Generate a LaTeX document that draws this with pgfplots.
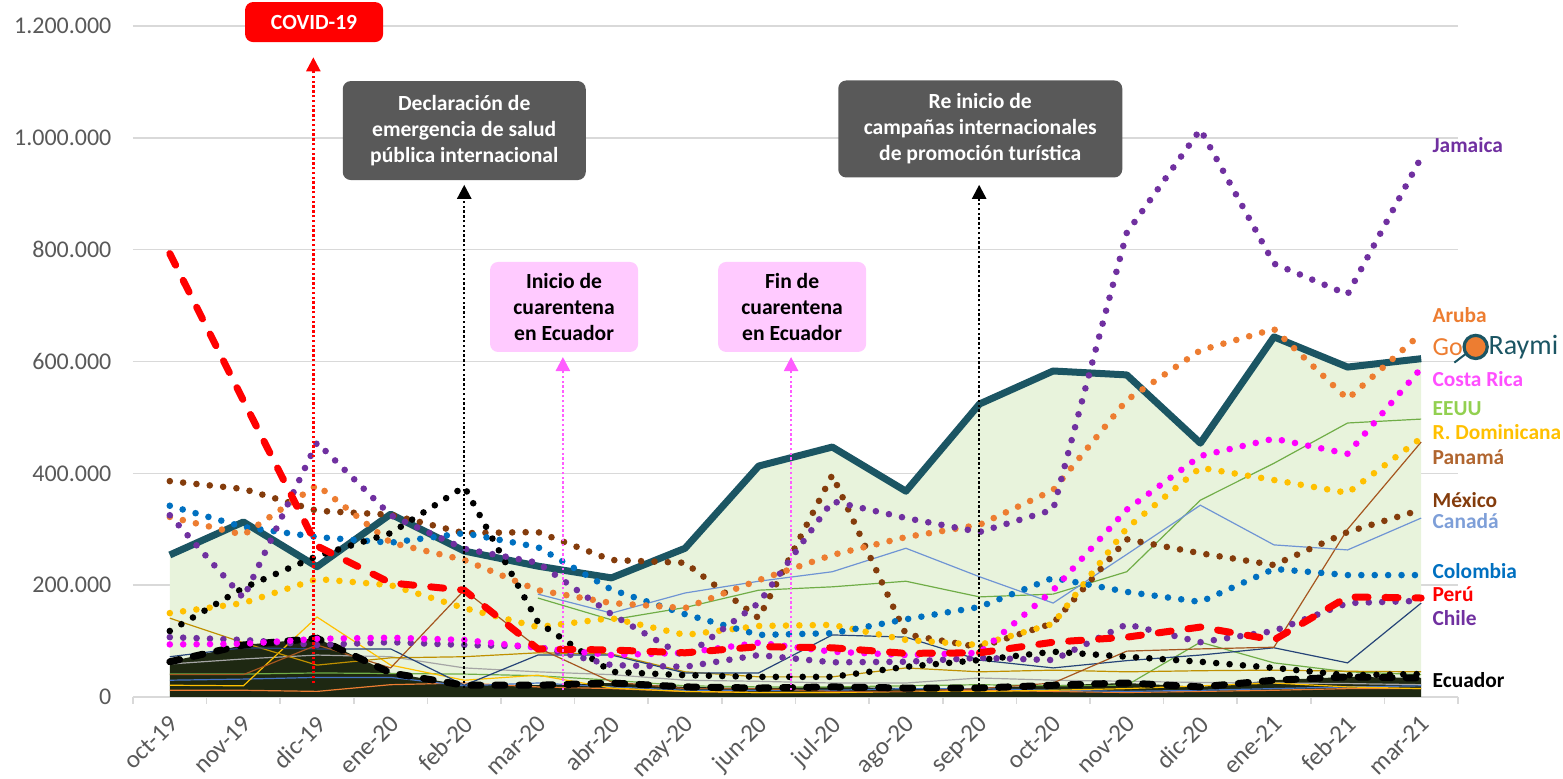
\documentclass[border=0pt]{standalone}
\usepackage{fontspec}
\setmainfont{Carlito}
\usepackage{pgfplots}
\pgfplotsset{compat=1.18}
\usetikzlibrary{arrows.meta}

\definecolor{goraymi}{HTML}{1B5563}
\definecolor{gofill}{HTML}{E8F3DC}
\definecolor{darkfill}{HTML}{1E2812}
\definecolor{jam}{HTML}{7030A0}
\definecolor{aruba}{HTML}{ED7D31}
\definecolor{crica}{HTML}{FF00FF}
\definecolor{colom}{HTML}{0070C0}
\definecolor{mexico}{HTML}{843C0C}
\definecolor{rdom}{HTML}{FFC000}
\definecolor{eeuu}{HTML}{70AD47}
\definecolor{eeuulab}{HTML}{92D050}
\definecolor{canada}{HTML}{6F94D4}
\definecolor{canadalab}{HTML}{7E9FD8}
\definecolor{panama}{HTML}{A5561F}
\definecolor{panamalab}{HTML}{B0652F}
\definecolor{olive}{HTML}{BF9000}
\definecolor{dblue}{HTML}{264478}
\definecolor{lgray}{HTML}{A5A5A5}
\definecolor{mblue}{HTML}{4472C4}
\definecolor{tickgray}{HTML}{595959}
\definecolor{gridgray}{HTML}{D9D9D9}
\definecolor{boxgray}{HTML}{595959}
\definecolor{boxpink}{HTML}{FFCAFF}
\definecolor{arrpink}{HTML}{FF5CFF}
\definecolor{crlab}{HTML}{FF4FFF}

\tikzset{
  dotser/.style={line width=3.3pt, dash pattern=on 0pt off 6.7pt, line cap=round},
  thinser/.style={line width=0.6pt},
  evarrow/.style={line width=1.2pt, dash pattern=on 1.2pt off 1.2pt, -{Triangle[width=7pt,length=7pt]}},
  evbox/.style={rounded corners=4pt, align=center, font=\fontsize{10.8}{13}\selectfont\bfseries, inner sep=0pt},
  rlab/.style={anchor=west, inner sep=0pt, font=\fontsize{10.7}{12}\selectfont\bfseries},
}

\begin{document}
\begin{tikzpicture}
\begin{axis}[
  name=ax, scale only axis, width=662.5pt, height=335.5pt,
  xmin=-0.5, xmax=17.5, ymin=0, ymax=1200000,
  axis x line*=bottom, axis y line*=left,
  x axis line style={draw=gridgray, line width=0.8pt, -},
  y axis line style={draw=none},
  xtick={0,...,17},
  xticklabels={oct-19,nov-19,dic-19,ene-20,feb-20,mar-20,abr-20,may-20,jun-20,jul-20,ago-20,sep-20,oct-20,nov-20,dic-20,ene-21,feb-21,mar-21},
  minor xtick={-0.5,0.5,...,17.5},
  major x tick style={draw=none},
  minor x tick style={draw=gridgray, line width=0.8pt},
  minor tick length=3.5pt,
  tick align=outside,
  ytick={0,200000,...,1200000},
  major y tick style={draw=none},
  ymajorgrids, grid style={gridgray, line width=0.8pt},
  scaled y ticks=false,
  tick label style={text=tickgray},
  yticklabel style={font=\fontsize{12}{14}\selectfont, xshift=-3pt, /pgf/number format/.cd, fixed, 1000 sep={.}, assume math mode=true},
  xticklabel style={font=\fontsize{12.5}{14}\selectfont, rotate=45, anchor=north east, inner sep=1pt, xshift=-2.5pt, yshift=-1pt},
  clip=false, no markers,
]
% GoRaymi area
\addplot[fill=gofill, draw=none] coordinates {
 (0,254000) (1,313000) (2,233000) (3,327000) (4,261000) (5,234000) (6,213000) (7,266000) (8,413000)
 (9,447000) (10,368000) (11,524000) (12,583000) (13,576000) (14,454000) (15,644000) (16,590000) (17,605000)} \closedcycle;
% dark area under Ecuador dashed
\addplot[fill=darkfill, draw=none] coordinates {
 (0,63000) (1,93000) (2,105000) (3,43000) (4,21000) (5,21000) (6,25000) (7,18000) (8,16000)
 (9,18000) (10,16000) (11,16000) (12,21000) (13,25000) (14,18000) (15,30000) (16,36000) (17,34000)} \closedcycle;

% thin series near the bottom
\addplot[thinser, lgray] coordinates {
 (0,59000) (1,68000) (2,75000) (3,72000) (4,52000) (5,45000) (6,40000) (7,30000) (8,28000)
 (9,25000) (10,25000) (11,34000) (12,30000) (13,28000) (14,26000) (15,25000) (16,24000) (17,22000)};
\addplot[thinser, aruba] coordinates {
 (0,12000) (1,12000) (2,10000) (3,22000) (4,25000) (5,18000) (6,15000) (7,10000) (8,8000)
 (9,8000) (10,10000) (11,12000) (12,10000) (13,8000) (14,10000) (15,12000) (16,15000) (17,15000)};
\addplot[thinser, mblue] coordinates {
 (0,30000) (1,32000) (2,35000) (3,35000) (4,20000) (5,25000) (6,18000) (7,12000) (8,12000)
 (9,12000) (10,15000) (11,15000) (12,12000) (13,10000) (14,12000) (15,15000) (16,18000) (17,20000)};
\addplot[thinser, eeuu] coordinates {
 (0,41000) (1,41000) (2,43000) (3,42000) (4,41000) (5,38000) (6,30000) (7,20000) (8,18000)
 (9,18000) (10,20000) (11,22000) (12,20000) (13,21000) (14,98000) (15,61000) (16,45000) (17,40000)};
\addplot[thinser, rdom] coordinates {
 (0,21000) (1,20000) (2,143000) (3,57000) (4,30000) (5,39000) (6,16000) (7,10000) (8,8000)
 (9,8000) (10,10000) (11,10000) (12,12000) (13,15000) (14,20000) (15,25000) (16,18000) (17,15000)};
\addplot[thinser, olive] coordinates {
 (0,141000) (1,97000) (2,57000) (3,70000) (4,72000) (5,79000) (6,77000) (7,45000) (8,36000)
 (9,36000) (10,52000) (11,45000) (12,48000) (13,45000) (14,47000) (15,48000) (16,46000) (17,45000)};
\addplot[thinser, dblue] coordinates {
 (0,72000) (1,88000) (2,86000) (3,86000) (4,21000) (5,75000) (6,75000) (7,43000) (8,43000)
 (9,111000) (10,107000) (11,66000) (12,52000) (13,65000) (14,75000) (15,88000) (16,61000) (17,168000)};
% Panama
\addplot[thinser, panama] coordinates {
 (0,40000) (1,40000) (2,93000) (3,52000) (4,191000) (5,88000) (6,27000) (7,15000) (8,15000)
 (9,10000) (10,10000) (11,15000) (12,25000) (13,82000) (14,86000) (15,89000) (16,300000) (17,456000)};
% EEUU
\addplot[thinser, eeuu] coordinates {
 (5,177000) (6,138000) (7,160000) (8,191000) (9,197000) (10,207000) (11,179000) (12,184000)
 (13,224000) (14,352000) (15,418000) (16,490000) (17,497000)};
% Canada
\addplot[thinser, canada] coordinates {
 (5,184000) (6,150000) (7,186000) (8,207000) (9,224000) (10,266000) (11,215000) (12,168000)
 (13,255000) (14,343000) (15,272000) (16,263000) (17,320000)};

% GoRaymi line
\addplot[goraymi, line width=3.5pt, line join=round] coordinates {
 (0,254000) (1,313000) (2,233000) (3,327000) (4,261000) (5,234000) (6,213000) (7,266000) (8,413000)
 (9,447000) (10,368000) (11,524000) (12,583000) (13,576000) (14,454000) (15,644000) (16,590000) (17,605000)};

% Ecuador dashed
\addplot[black, line width=3.5pt, dash pattern=on 5pt off 7pt, line cap=round] coordinates {
 (0,63000) (1,93000) (2,105000) (3,43000) (4,21000) (5,21000) (6,25000) (7,18000) (8,16000)
 (9,18000) (10,16000) (11,16000) (12,21000) (13,25000) (14,18000) (15,30000) (16,36000) (17,34000)};

% dotted series
\addplot[dotser, mexico] coordinates {
 (0,386000) (1,372000) (2,333000) (3,326000) (4,293000) (5,295000) (6,245000) (7,240000) (8,141000)
 (9,397000) (10,112000) (11,89000) (12,132000) (13,282000) (14,257000) (15,236000) (16,295000) (17,335000)};
\addplot[dotser, rdom] coordinates {
 (0,150000) (1,168000) (2,211000) (3,200000) (4,159000) (5,125000) (6,141000) (7,111000) (8,127000)
 (9,129000) (10,102000) (11,93000) (12,131000) (13,302000) (14,410000) (15,388000) (16,365000) (17,463000)};
\addplot[dotser, colom] coordinates {
 (0,342000) (1,304000) (2,286000) (3,276000) (4,293000) (5,268000) (6,192000) (7,148000) (8,111000)
 (9,114000) (10,139000) (11,161000) (12,213000) (13,188000) (14,170000) (15,229000) (16,218000) (17,218000)};
\addplot[dotser, aruba] coordinates {
 (0,322000) (1,290000) (2,379000) (3,276000) (4,245000) (5,191000) (6,168000) (7,159000) (8,209000)
 (9,254000) (10,286000) (11,308000) (12,370000) (13,531000) (14,620000) (15,658000) (16,533000) (17,650000)};
\addplot[dotser, black] coordinates {
 (0,118000) (1,195000) (2,252000) (3,293000) (4,376000) (5,134000) (6,45000) (7,39000) (8,36000)
 (9,36000) (10,54000) (11,66000) (12,81000) (13,72000) (14,63000) (15,52000) (16,39000) (17,41000)};
\addplot[dotser, jam] coordinates {
 (0,107000) (1,102000) (2,93000) (3,98000) (4,93000) (5,90000) (6,57000) (7,54000) (8,75000)
 (9,62000) (10,63000) (11,70000) (12,66000) (13,130000) (14,98000) (15,118000) (16,168000) (17,172000)};
\addplot[dotser, crica] coordinates {
 (0,94000) (1,95000) (2,104000) (3,106000) (4,102000) (5,88000) (6,75000) (7,79000) (8,97000)
 (9,81000) (10,75000) (11,79000) (12,191000) (13,335000) (14,431000) (15,462000) (16,435000) (17,588000)};
\addplot[dotser, jam] coordinates {
 (0,325000) (1,177000) (2,455000) (3,325000) (4,265000) (5,240000) (6,148000) (7,72000) (8,168000)
 (9,350000) (10,320000) (11,295000) (12,335000) (13,830000) (14,1015000) (15,775000) (16,720000) (17,965000)};
% Peru
\addplot[red, line width=3.5pt, dash pattern=on 6.5pt off 8.5pt, line cap=round] coordinates {
 (0,793000) (1,530000) (2,270000) (3,204000) (4,191000) (5,86000) (6,84000) (7,79000) (8,90000)
 (9,88000) (10,78000) (11,79000) (12,98000) (13,107000) (14,125000) (15,102000) (16,179000) (17,177000)};

% event arrows
\draw[evarrow, red] (axis cs:1.95,25000) -- (axis cs:1.95,1144000);
\draw[evarrow, black] (axis cs:4.0,16000) -- (axis cs:4.0,916000);
\draw[evarrow, arrpink] (axis cs:5.34,12000) -- (axis cs:5.34,608000);
\draw[evarrow, arrpink] (axis cs:8.44,12000) -- (axis cs:8.44,608000);
\draw[evarrow, black] (axis cs:10.995,12000) -- (axis cs:10.995,916000);

% event boxes
\node[evbox, fill=red, text=white, minimum width=69pt, minimum height=20pt] at (axis cs:1.96,1207000) {COVID-19};
\node[evbox, fill=boxgray, text=white, minimum width=121.5pt, minimum height=49.5pt] at (axis cs:4.0,1013000)
  {Declaración de\\emergencia de salud\\pública internacional};
\node[evbox, fill=boxpink, text=black, minimum width=74pt, minimum height=45pt] at (axis cs:5.356,697500)
  {Inicio de\\cuarentena\\en Ecuador};
\node[evbox, fill=boxpink, text=black, minimum width=74pt, minimum height=45pt] at (axis cs:8.454,697500)
  {Fin de\\cuarentena\\en Ecuador};
\node[evbox, fill=boxgray, text=white, minimum width=142pt, minimum height=48.5pt] at (axis cs:11.01,1015800)
  {Re inicio de\\campañas internacionales\\de promoción turística};

% series labels
\node[rlab, text=jam] at (axis cs:17.15,987000) {Jamaica};
\node[rlab, text=aruba] at (axis cs:17.15,683000) {Aruba};
\node[anchor=west, inner sep=0pt, text=aruba, font=\fontsize{13}{14}\selectfont] at (axis cs:17.15,626000) {Go};
\draw[goraymi, line width=1pt] (axis cs:17.45,598000) -- (axis cs:17.62,615000);
\draw[goraymi, fill=aruba, line width=1.6pt] (axis cs:17.74,626000) circle[radius=5.8pt];
\node[anchor=west, inner sep=0pt, text=goraymi, font=\fontsize{14}{15}\selectfont] at (axis cs:17.91,626000) {Raymi};
\node[rlab, text=crlab] at (axis cs:17.15,569000) {Costa Rica};
\node[rlab, text=eeuulab] at (axis cs:17.15,515000) {EEUU};
\node[rlab, text=rdom] at (axis cs:17.15,474000) {R. Dominicana};
\node[rlab, text=panamalab] at (axis cs:17.15,429000) {Panamá};
\node[rlab, text=mexico] at (axis cs:17.15,352000) {México};
\node[rlab, text=canadalab] at (axis cs:17.15,315000) {Canadá};
\node[rlab, text=colom] at (axis cs:17.15,225000) {Colombia};
\node[rlab, text=red] at (axis cs:17.15,184000) {Perú};
\node[rlab, text=jam] at (axis cs:17.15,141000) {Chile};
\node[rlab, text=black] at (axis cs:17.15,30000) {Ecuador};
\end{axis}
\pgfresetboundingbox
\path ([shift={(-66.5pt,-41pt)}]ax.south west) rectangle ([shift={(715pt,348.5pt)}]ax.south west);
\end{tikzpicture}
\end{document}
